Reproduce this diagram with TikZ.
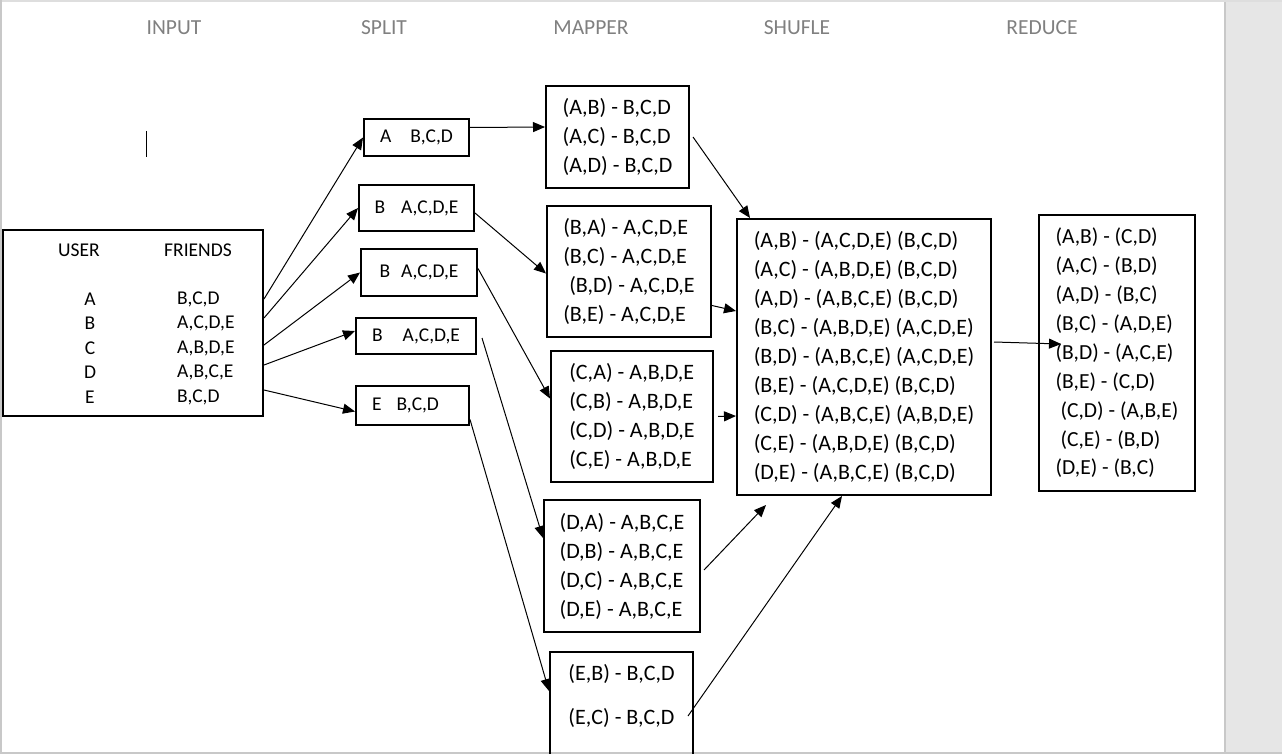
\documentclass[tikz,border=0pt]{standalone}
\usepackage{fontspec}
\setmainfont{Carlito}
\usetikzlibrary{arrows.meta}
\definecolor{headgray}{RGB}{128,128,128}
\definecolor{panelgray}{RGB}{230,230,230}
\definecolor{edgegray}{RGB}{200,200,200}
\definecolor{topgray}{RGB}{222,222,222}
\tikzset{signal/.style={%
  ->,
  line width=1pt,
  >={Triangle[length=12pt,width=10pt]},
  }
}
\tikzset{block/.style={%
  draw,
  line width=2pt,
  inner sep=0pt,
  anchor=center,
  align=left,
  }
}
\tikzset{heading/.style={%
  text=headgray,
  font=\fontsize{21.5}{26}\selectfont,
  }
}
\tikzset{tabletext/.style={inner sep=0pt, font=\fontsize{19.5}{24.5}\selectfont}}
\tikzset{maptext/.style={font=\fontsize{22}{29}\selectfont}}
\tikzset{reducetext/.style={font=\fontsize{21.5}{28.9}\selectfont}}

\begin{document}
\begin{tikzpicture}[x=1pt, y=-1pt]
  \useasboundingbox (0,0) rectangle (1282,754);

  % page frame
  \fill [panelgray] (1225,0) rectangle (1282,754);
  \draw [edgegray, line width=2pt] (1225,0) -- (1225,754);
  \fill [topgray] (0,0) rectangle (1282,2.5);
  \fill [edgegray] (0,0) rectangle (2,754);
  \fill [edgegray] (0,752) rectangle (1282,754);
  \draw [line width=1pt] (146,131) -- (146,157);

  % column titles
  \node (inputtitle) [heading] at (174,28) {INPUT};
  \node (splittitle) [heading] at (384,28) {SPLIT};
  \node (mappertitle) [heading] at (591,28) {MAPPER};
  \node (shufletitle) [heading] at (797,28) {SHUFLE};
  \node (reducetitle) [heading] at (1042,28) {REDUCE};

  % input
  \node (inputbox) [block, minimum width=260pt, minimum height=186pt] at (133,323) {};
  \node (userhead) [tabletext] at (79,250) {USER};
  \node (friendhead) [tabletext] at (198,250) {FRIENDS};
  \node (users) [tabletext, align=center] at (90,348) {A\\B\\C\\D\\E};
  \node (friends) [tabletext, align=left, anchor=west] at (177,348) {B,C,D\\A,C,D,E\\A,B,D,E\\A,B,C,E\\B,C,D};

  % split
  \node (split1) [block, tabletext, minimum width=105pt, minimum height=37pt] at (416.5,137.5) {A\hspace{19pt}B,C,D};
  \node (split2) [block, tabletext, minimum width=115pt, minimum height=46pt] at (416.5,208) {B\hspace{16pt}A,C,D,E};
  \node (split3) [block, tabletext, minimum width=116pt, minimum height=47pt] at (419,272.5) {B\hspace{11pt}A,C,D,E};
  \node (split4) [block, tabletext, minimum width=120pt, minimum height=36pt] at (416,336) {B\hspace{20pt}A,C,D,E};
  \node (split5) [block, tabletext, minimum width=113pt, minimum height=39pt] at (412.5,405.5) {E\hspace{15pt}B,C,D\hspace{14pt}};

  % mapper
  \node (map1) [block, maptext, minimum width=143pt, minimum height=102pt] at (617.5,137) {(A,B) - B,C,D\\(A,C) - B,C,D\\(A,D) - B,C,D};
  \node (map2) [block, maptext, minimum width=164pt, minimum height=131pt] at (629,271.5) {(B,A) - A,C,D,E\\(B,C) - A,C,D,E\\\hspace*{6pt}(B,D) - A,C,D,E\\(B,E) - A,C,D,E};
  \node (map3) [block, maptext, minimum width=162pt, minimum height=131pt] at (632,416.5) {(C,A) - A,B,D,E\\(C,B) - A,B,D,E\\(C,D) - A,B,D,E\\(C,E) - A,B,D,E};
  \node (map4) [block, maptext, minimum width=156pt, minimum height=132pt] at (622,566) {(D,A) - A,B,C,E\\(D,B) - A,B,C,E\\(D,C) - A,B,C,E\\(D,E) - A,B,C,E};
  \node (map5) [block, maptext, anchor=north, inner ysep=12pt, minimum width=143pt] at (621.5,651) {(E,B) - B,C,D\\[15pt](E,C) - B,C,D\\[17pt]\mbox{}};

  % shufle
  \node (shuffle) [block, maptext, minimum width=254pt, minimum height=276pt] at (864,357) {(A,B) - (A,C,D,E) (B,C,D)\\(A,C) - (A,B,D,E) (B,C,D)\\(A,D) - (A,B,C,E) (B,C,D)\\(B,C) - (A,B,D,E) (A,C,D,E)\\(B,D) - (A,B,C,E) (A,C,D,E)\\(B,E) - (A,C,D,E) (B,C,D)\\(C,D) - (A,B,C,E) (A,B,D,E)\\(C,E) - (A,B,D,E) (B,C,D)\\(D,E) - (A,B,C,E) (B,C,D)};

  % reduce
  \node (reduce) [block, reducetext, minimum width=156pt, minimum height=276pt] at (1117,353) {(A,B) - (C,D)\\(A,C) - (B,D)\\(A,D) - (B,C)\\(B,C) - (A,D,E)\\(B,D) - (A,C,E)\\(B,E) - (C,D)\\\hspace*{5pt}(C,D) - (A,B,E)\\\hspace*{5pt}(C,E) - (B,D)\\(D,E) - (B,C)};

  \draw [signal] ([yshift=24pt]inputbox.east) -- (split1.west);
  \draw [signal] ([yshift=5pt]inputbox.east) -- (split2.west);
  \draw [signal] ([yshift=-22pt]inputbox.east) -- (split3.west);
  \draw [signal] ([yshift=-42pt]inputbox.east) -- ([yshift=5pt]split4.west);
  \draw [signal] ([yshift=-67pt]inputbox.east) -- ([yshift=-6pt]split5.west);

  \draw [signal] ([yshift=10pt]split1.east) -- ([yshift=10pt]map1.west);
  \draw [signal] ([yshift=-5pt]split2.east) -- ([yshift=-2pt]map2.west);
  \draw [signal] ([yshift=4pt]split3.east) -- ([yshift=18pt]map3.west);
  \draw [signal] ([xshift=5pt,yshift=-2pt]split4.east) -- ([yshift=28pt]map4.west);
  \draw [signal] ([yshift=-14pt]split5.east) -- ([yshift=-40pt]map5.north west);

  \draw [signal] ([xshift=3pt]map1.east) -- ([xshift=14pt]shuffle.north west);
  \draw [signal] ([yshift=-34pt]map2.east) -- ([yshift=46pt]shuffle.west);
  \draw [signal] ([xshift=4pt]map3.east) -- ([yshift=-59pt]shuffle.west);
  \draw [signal] ([xshift=3pt,yshift=-4pt]map4.east) -- ([xshift=30pt,yshift=-9pt]shuffle.south west);
  \draw [signal] ([xshift=-6pt,yshift=-65pt]map5.north east) -- ([xshift=106pt]shuffle.south west);

  \draw [signal] ([xshift=2pt,yshift=15pt]shuffle.east) -- ([xshift=23pt,yshift=9pt]reduce.west);
\end{tikzpicture}
\end{document}
